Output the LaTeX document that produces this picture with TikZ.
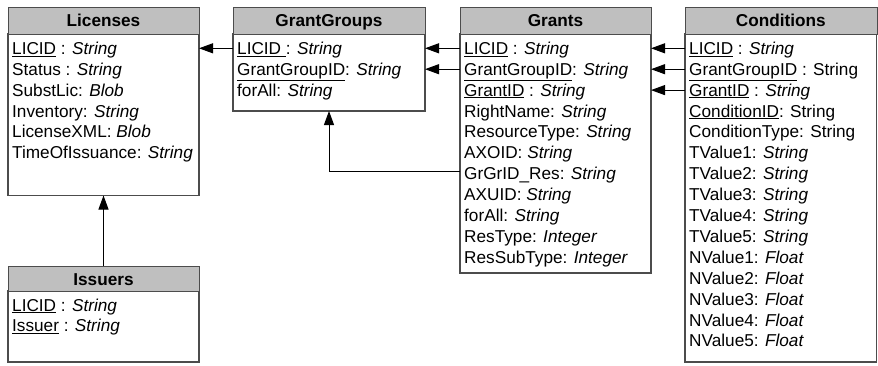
\documentclass[tikz,border=0pt]{standalone}
\usepackage{fontspec}
\setmainfont{Liberation Sans}
\usetikzlibrary{arrows.meta}

\tikzset{
  boxframe/.style={draw=black!70, line width=1.3pt},
  headtext/.style={anchor=base, inner sep=0pt, font=\fontsize{17.2}{20}\selectfont\bfseries},
  rowtext/.style={anchor=base west, inner sep=0pt, font=\fontsize{17.2}{20}\selectfont},
  link/.style={draw=black, line width=1pt, -{Triangle[length=14pt,width=10pt]}},
}

% an entity box: #1 name, #2 left, #3 top, #4 right, #5 bottom, #6 header bottom, #7 title
\newcommand{\entitybox}[7]{%
  \path[boxframe] (#2,#6) rectangle (#4,#5);
  \node[boxframe, fill=black!25, minimum width=#4pt-#2pt, minimum height=#6pt-#3pt,
        inner sep=0pt, anchor=north west] (#1) at (#2,#3) {};
  \node[headtext] (#1-title) at ({(#2+#4)/2},{#3+19.5}) {#7};
}

\begin{document}
\begin{tikzpicture}[x=1pt, y=-1pt]
  \useasboundingbox (0,0) rectangle (878,365);

  % ---- Licenses ----
  \entitybox{lic}{8}{7}{199}{195.5}{34}{Licenses}
  \node[rowtext] (lic1) at (12,54.3) {\underline{LICID} : \textit{String}};
  \node[rowtext] (lic2) at (12,75.2) {Status : \textit{String}};
  \node[rowtext] (lic3) at (12,96.1) {SubstLic: \textit{Blob}};
  \node[rowtext] (lic4) at (12,117.0) {Inventory: \textit{String}};
  \node[rowtext] (lic5) at (12,137.9) {LicenseXML: \textit{Blob}};
  \node[rowtext] (lic6) at (12,158.8) {TimeOfIssuance: \textit{String}};

  % ---- Issuers ----
  \entitybox{iss}{8}{265.5}{199}{362}{291}{Issuers}
  \node[rowtext] (iss1) at (12,311.0) {\underline{LICID} : \textit{String}};
  \node[rowtext] (iss2) at (12,331.9) {\underline{Issuer} : \textit{String}};

  % ---- GrantGroups ----
  \entitybox{gg}{233}{7}{425}{111}{34}{GrantGroups}
  \node[rowtext] (gg1) at (237,54.3) {\underline{LICID\ }: \textit{String}};
  \node[rowtext] (gg2) at (237,75.2) {\underline{GrantGroupID}: \textit{String}};
  \node[rowtext] (gg3) at (237,96.1) {forAll: \textit{String}};

  % ---- Grants ----
  \entitybox{gr}{460}{7}{651}{273}{34}{Grants}
  \node[rowtext] (gr1) at (464,54.3) {\underline{LICID} : \textit{String}};
  \node[rowtext] (gr2) at (464,75.2) {\underline{GrantGroupID}: \textit{String}};
  \node[rowtext] (gr3) at (464,96.1) {\underline{GrantID} : \textit{String}};
  \node[rowtext] (gr4) at (464,117.0) {RightName: \textit{String}};
  \node[rowtext] (gr5) at (464,137.9) {ResourceType: \textit{String}};
  \node[rowtext] (gr6) at (464,158.8) {AXOID: \textit{String}};
  \node[rowtext] (gr7) at (464,179.7) {GrGrID\_Res: \textit{String}};
  \node[rowtext] (gr8) at (464,200.6) {AXUID: \textit{String}};
  \node[rowtext] (gr9) at (464,221.5) {forAll: \textit{String}};
  \node[rowtext] (gr10) at (464,242.4) {ResType: \textit{Integer}};
  \node[rowtext] (gr11) at (464,263.3) {ResSubType: \textit{Integer}};

  % ---- Conditions ----
  \entitybox{co}{685}{7}{876.5}{362}{34}{Conditions}
  \node[rowtext] (co1) at (689,54.3) {\underline{LICID} : \textit{String}};
  \node[rowtext] (co2) at (689,75.2) {\underline{GrantGroupID} : String};
  \node[rowtext] (co3) at (689,96.1) {\underline{GrantID} : \textit{String}};
  \node[rowtext] (co4) at (689,117.0) {\underline{ConditionID}: String};
  \node[rowtext] (co5) at (689,137.9) {ConditionType: String};
  \node[rowtext] (co6) at (689,158.8) {TValue1: \textit{String}};
  \node[rowtext] (co7) at (689,179.7) {TValue2: \textit{String}};
  \node[rowtext] (co8) at (689,200.6) {TValue3: \textit{String}};
  \node[rowtext] (co9) at (689,221.5) {TValue4: \textit{String}};
  \node[rowtext] (co10) at (689,242.4) {TValue5: \textit{String}};
  \node[rowtext] (co11) at (689,263.3) {NValue1: \textit{Float}};
  \node[rowtext] (co12) at (689,284.2) {NValue2: \textit{Float}};
  \node[rowtext] (co13) at (689,305.1) {NValue3: \textit{Float}};
  \node[rowtext] (co14) at (689,326.0) {NValue4: \textit{Float}};
  \node[rowtext] (co15) at (689,346.9) {NValue5: \textit{Float}};

  % ---- box edges used by the connectors ----
  \coordinate (lic-east) at (199,0);
  \coordinate (gg-west) at (233,0);
  \coordinate (gg-east) at (425,0);
  \coordinate (gr-west) at (460,0);
  \coordinate (gr-east) at (651,0);
  \coordinate (co-west) at (685,0);
  \coordinate (gg-foot) at (329,111);
  \coordinate (lic-foot) at (103.5,195.5);
  \coordinate (iss-top) at (103.5,265.5);

  % ---- foreign keys ----
  \draw[link] ([yshift=6pt]gg-west |- gg1.base) -- ([yshift=6pt]lic-east |- gg1.base);
  \draw[link] ([yshift=6pt]gr-west |- gr1.base) -- ([yshift=6pt]gg-east |- gr1.base);
  \draw[link] ([yshift=6pt]gr-west |- gr2.base) -- ([yshift=6pt]gg-east |- gr2.base);
  \draw[link] ([yshift=8pt]gr-west |- gr7.base) -| (gg-foot);
  \draw[link] ([yshift=6pt]co-west |- co1.base) -- ([yshift=6pt]gr-east |- co1.base);
  \draw[link] ([yshift=6pt]co-west |- co2.base) -- ([yshift=6pt]gr-east |- co2.base);
  \draw[link] ([yshift=6pt]co-west |- co3.base) -- ([yshift=6pt]gr-east |- co3.base);
  \draw[link] (iss-top) -- (lic-foot);
\end{tikzpicture}
\end{document}
